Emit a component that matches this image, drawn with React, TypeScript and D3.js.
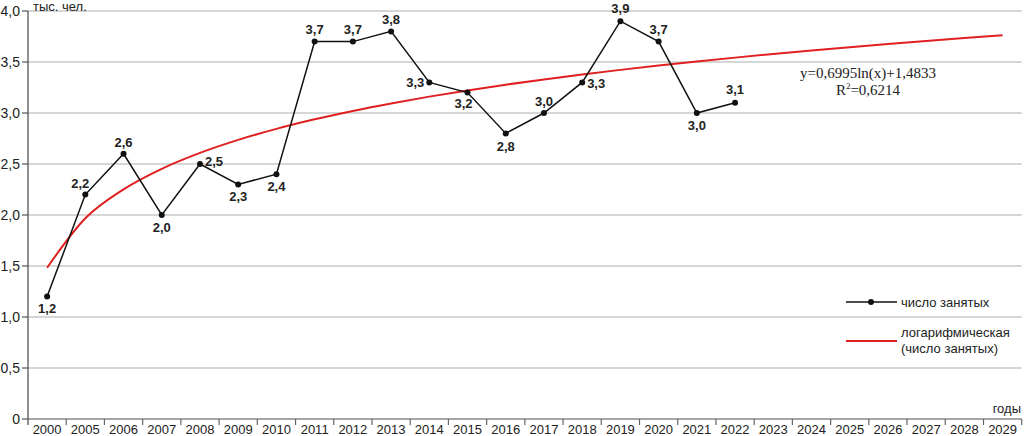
import React from "react";
import * as d3 from "d3";

const years = ["2000","2005","2006","2007","2008","2009","2010","2011","2012","2013","2014","2015","2016","2017","2018","2019","2020","2021","2022","2023","2024","2025","2026","2027","2028","2029"];
const employedYears = ["2000","2005","2006","2007","2008","2009","2010","2011","2012","2013","2014","2015","2016","2017","2018","2019","2020","2021","2022"];
const employed = [1.2, 2.2, 2.6, 2.0, 2.5, 2.3, 2.4, 3.7, 3.7, 3.8, 3.3, 3.2, 2.8, 3.0, 3.3, 3.9, 3.7, 3.0, 3.1];
const yTicks = [0, 0.5, 1.0, 1.5, 2.0, 2.5, 3.0, 3.5, 4.0];
const trendA = 0.6995;
const trendB = 1.4833;
const r2 = "0,6214";
// label placement: [dx, dy] offsets of label centre from point
const labelPos: [number, number][] = [
  [0, 12], [-5, -11], [0, -11], [0, 12], [14, -3], [0, 12], [0, 12],
  [0, -12], [0, -12], [0, -12], [-14, 0], [-4, 11], [0, 13], [0, -12],
  [14, 1], [0, -13], [0, -12], [0, 12], [0, -13],
];

const W = 1028, H = 436;
const sans = "'Liberation Sans', Arial, sans-serif";
const serif = "'Liberation Serif', 'Times New Roman', serif";

export default function App() {
  const x = d3.scaleBand<string>().domain(years).range([28, 1021.7]).padding(0);
  const y = d3.scaleLinear().domain([0, 4]).range([419, 11]);
  const cx = (yr: string) => (x(yr) as number) + x.bandwidth() / 2;
  const fmt = (v: number) => (v === 0 ? "0" : v.toFixed(1).replace(".", ","));

  const pts = employed.map((v, i) => [cx(employedYears[i]), y(v)] as [number, number]);
  const line = d3.line()(pts) as string;
  const trendPts = years.map((yr, i) => [cx(yr), y(trendA * Math.log(i + 1) + trendB)] as [number, number]);
  const trend = d3.line().curve(d3.curveMonotoneX)(trendPts) as string;

  const boundaries = years.map((yr) => (x(yr) as number) + x.bandwidth());

  return (
    <svg width={W} height={H} style={{ position: "absolute", left: 0, top: 0, background: "#fff" }}>
      <rect width={W} height={H} fill="#fff" />
      {yTicks.map((t) => (
        <g key={t}>
          {t > 0 && <line x1={28} x2={1021.7} y1={y(t)} y2={y(t)} stroke="#c8c8c8" strokeWidth={1.5} />}
          <line x1={22} x2={28} y1={y(t)} y2={y(t)} stroke="#555" strokeWidth={1.2} />
          <text x={20} y={y(t) + 5} textAnchor="end" fontFamily={sans} fontSize={14} fill="#222">{fmt(t)}</text>
        </g>
      ))}
      <line x1={28} x2={1021.7} y1={419} y2={419} stroke="#888" strokeWidth={1.5} />
      <line x1={28} x2={28} y1={11} y2={425} stroke="#555" strokeWidth={1.3} />
      {boundaries.map((b, i) => (
        <line key={i} x1={b} x2={b} y1={419} y2={425} stroke="#666" strokeWidth={1.2} />
      ))}
      {years.map((yr) => (
        <text key={yr} x={cx(yr)} y={434} textAnchor="middle" fontFamily={sans} fontSize={13} fill="#222">{yr}</text>
      ))}
      <text x={33} y={11} fontFamily={sans} fontSize={13} fill="#222">тыс. чел.</text>
      <text x={1021} y={413} textAnchor="end" fontFamily={sans} fontSize={13} fill="#222">годы</text>

      <path d={trend} fill="none" stroke="#e02020" strokeWidth={2} />
      <path d={line} fill="none" stroke="#111" strokeWidth={1.5} />
      {pts.map(([px, py], i) => (
        <g key={i}>
          <circle cx={px} cy={py} r={3} fill="#111" />
          <text x={px + labelPos[i][0]} y={py + labelPos[i][1] + 4.5} textAnchor="middle" fontFamily={sans} fontWeight="bold" fontSize={13} fill="#222">{fmt(employed[i])}</text>
        </g>
      ))}

      <text x={868} y={78} textAnchor="middle" fontFamily={serif} fontSize={15} fill="#222">y=0,6995ln(x)+1,4833</text>
      <text x={868} y={95} textAnchor="middle" fontFamily={serif} fontSize={15} fill="#222">R<tspan dy={-6} fontSize={9}>2</tspan><tspan dy={6}>=</tspan>{r2}</text>

      <line x1={846} x2={897} y1={302} y2={302} stroke="#111" strokeWidth={1.5} />
      <circle cx={871} cy={302} r={3} fill="#111" />
      <text x={901} y={306.5} fontFamily={sans} fontSize={13} fill="#222">число занятых</text>
      <line x1={846} x2={897} y1={341} y2={341} stroke="#e02020" strokeWidth={2} />
      <text x={901} y={337} fontFamily={sans} fontSize={13} fill="#222">логарифмическая</text>
      <text x={901} y={353} fontFamily={sans} fontSize={13} fill="#222">(число занятых)</text>
    </svg>
  );
}
